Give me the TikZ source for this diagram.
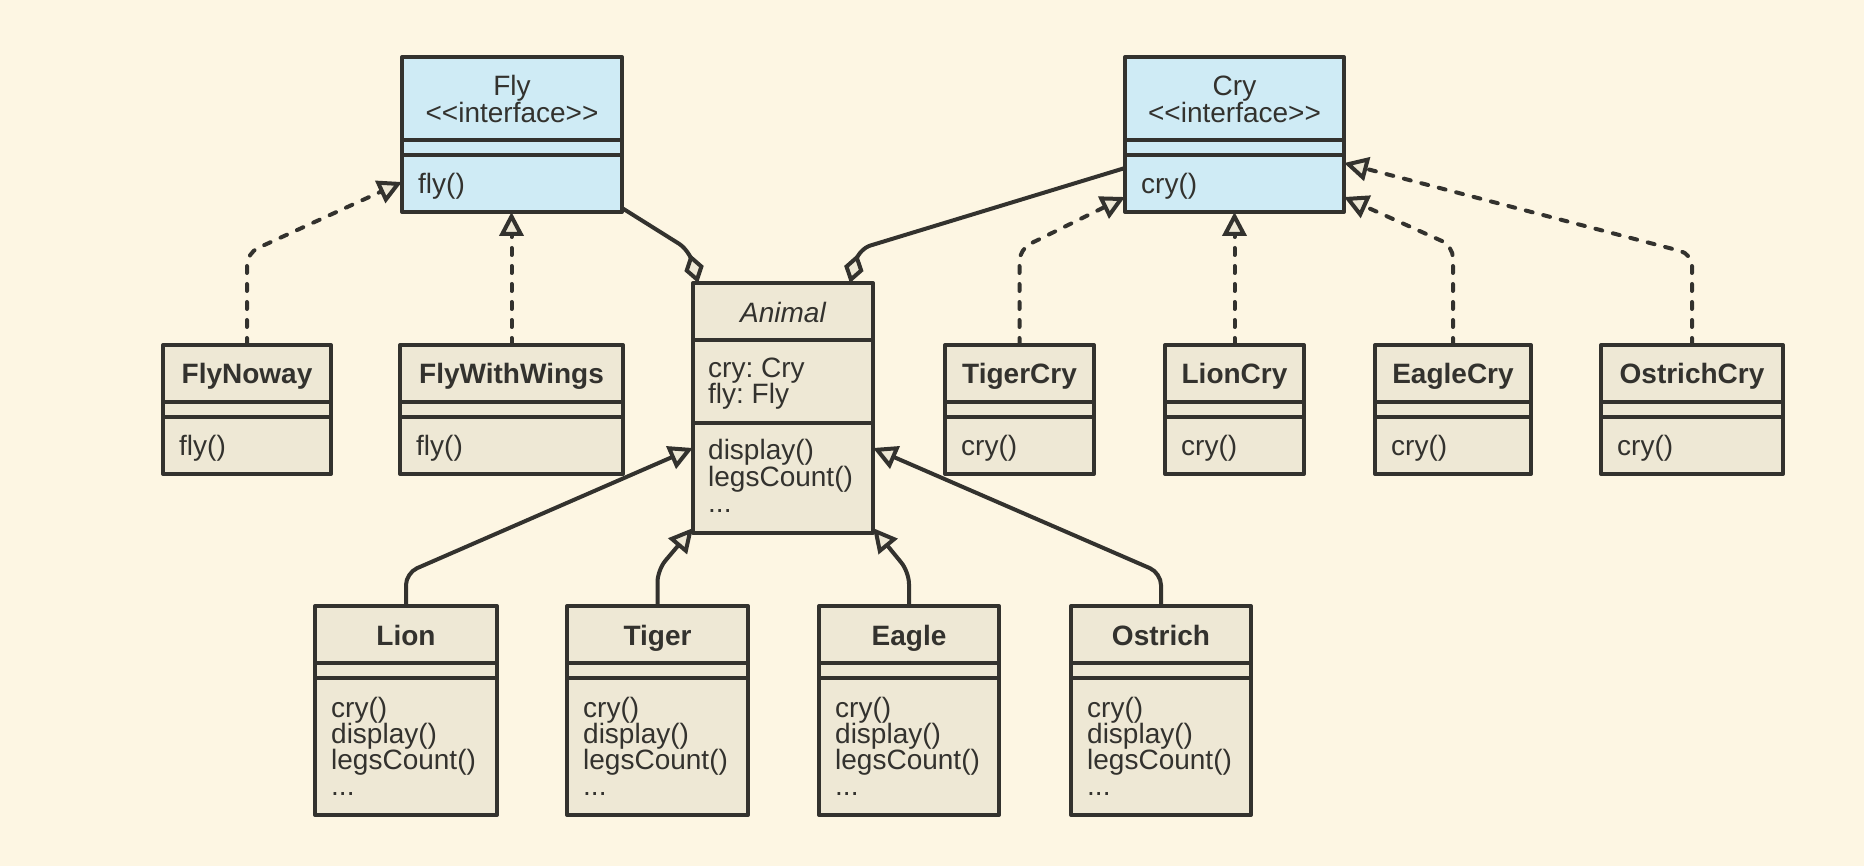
\documentclass[tikz,border=0pt]{standalone}
\usepackage{fontspec}
\setmainfont{Liberation Sans}
\usetikzlibrary{arrows.meta}
\definecolor{bg}{HTML}{FDF6E3}
\definecolor{boxfill}{HTML}{EEE8D5}
\definecolor{ifill}{HTML}{CFEBF5}
\definecolor{ink}{HTML}{33322E}
\newcommand\tdots{...}
\frenchspacing
\tikzset{
  classbox/.style={draw=ink, line width=4pt, inner sep=0pt, outer sep=0pt, anchor=north west, line join=round},
  divider/.style={draw=ink, line width=4pt},
  txt/.style={text=ink, inner sep=0pt, font=\fontsize{28}{28}\selectfont},
  conn/.style={draw=ink, line width=4pt, rounded corners=12pt, line join=round},
  realize/.style={conn, line cap=round, dash pattern=on 7pt off 11pt, -{Triangle[length=24pt,width=24pt,fill=boxfill]}},
  inherit/.style={conn, -{Triangle[length=24pt,width=24pt,fill=boxfill]}},
  compose/.style={conn, {Diamond[length=30pt,width=20pt,fill=boxfill]}-},
}
% name, x, y, w, h, header height, fill, title lines, body lines
\newcommand\umlbox[9]{%
  \node[classbox, fill=#7, minimum width=#4pt, minimum height=#5pt] (#1) at (#2,#3) {};
  \draw[divider] ([yshift={-#6pt}]#1.north west) -- ([yshift={-#6pt}]#1.north east);
  \draw[divider] ([yshift={-#6pt-15pt}]#1.north west) -- ([yshift={-#6pt-15pt}]#1.north east);
  \foreach \tl [count=\i from 0] in {#8} {\node[txt, anchor=base] (#1-t\i) at ([yshift={-(39+27*\i)*1pt}]#1.north) {\tl};}
  \foreach \bl [count=\i from 0] in {#9} {\node[txt, anchor=base west] (#1-b\i) at ([xshift=16pt, yshift={-(#6+15+39+26*\i)*1pt}]#1.north west) {\bl};}
}
\begin{document}
\begin{tikzpicture}[x=1pt, y=-1pt]
\fill[bg] (0,0) rectangle (1864,866);
\useasboundingbox (0,0) rectangle (1864,866);

% interfaces
\umlbox{fly}{402}{57}{220}{155}{83}{ifill}{Fly,<\kern0pt<interface>\kern0pt>}{fly()}
\umlbox{cry}{1125}{57}{219}{155}{83}{ifill}{Cry,<\kern0pt<interface>\kern0pt>}{cry()}

% row 2
\umlbox{flynoway}{163}{345}{168}{129}{57}{boxfill}{\bfseries FlyNoway}{fly()}
\umlbox{flywithwings}{400}{345}{223}{129}{57}{boxfill}{\bfseries FlyWithWings}{fly()}
\umlbox{tigercry}{945}{345}{149}{129}{57}{boxfill}{\bfseries TigerCry}{cry()}
\umlbox{lioncry}{1165}{345}{139}{129}{57}{boxfill}{\bfseries LionCry}{cry()}
\umlbox{eaglecry}{1375}{345}{156}{129}{57}{boxfill}{\bfseries EagleCry}{cry()}
\umlbox{ostrichcry}{1601}{345}{182}{129}{57}{boxfill}{\bfseries OstrichCry}{cry()}

% row 3
\umlbox{lion}{315}{606}{182}{209}{57}{boxfill}{\bfseries Lion}{cry(),display(),legsCount(),\tdots}
\umlbox{tiger}{567}{606}{181}{209}{57}{boxfill}{\bfseries Tiger}{cry(),display(),legsCount(),\tdots}
\umlbox{eagle}{819}{606}{180}{209}{57}{boxfill}{\bfseries Eagle}{cry(),display(),legsCount(),\tdots}
\umlbox{ostrich}{1071}{606}{180}{209}{57}{boxfill}{\bfseries Ostrich}{cry(),display(),legsCount(),\tdots}

% Animal
\node[classbox, fill=boxfill, minimum width=180pt, minimum height=250pt] (animal) at (693,283) {};
\draw[divider] ([yshift=-57pt]animal.north west) -- ([yshift=-57pt]animal.north east);
\draw[divider] ([yshift=-140pt]animal.north west) -- ([yshift=-140pt]animal.north east);
\node[txt, anchor=base] (animal-t0) at ([yshift=-40pt]animal.north) {\itshape Animal};
\node[txt, anchor=base west] (animal-a0) at ([xshift=15pt, yshift=-95pt]animal.north west) {cry: Cry};
\node[txt, anchor=base west] (animal-a1) at ([xshift=15pt, yshift=-121pt]animal.north west) {fly: Fly};
\node[txt, anchor=base west] (animal-m0) at ([xshift=15pt, yshift=-177pt]animal.north west) {display()};
\node[txt, anchor=base west] (animal-m1) at ([xshift=15pt, yshift=-203pt]animal.north west) {legsCount()};
\node[txt, anchor=base west] (animal-m2) at ([xshift=15pt, yshift=-229pt]animal.north west) {\tdots};

% realizations of Fly
\draw[realize] (flynoway.north) -- ++(0,-92) -- ([yshift=-47.5pt]fly.west);
\draw[realize] (flywithwings.north) -- (flywithwings.north |- fly.south);

% realizations of Cry
\draw[realize] (tigercry.north) -- ++(0,-96) -- ([yshift=-62.5pt]cry.west);
\draw[realize] (lioncry.north) -- (lioncry.north |- cry.south);
\draw[realize] (eaglecry.north) -- ++(0,-99) -- ([yshift=-62.5pt]cry.east);
\draw[realize] (ostrichcry.north) -- ++(0,-91) -- ([yshift=-28.5pt]cry.east);

% compositions
\draw[compose] ([xshift=-85pt]animal.north) -- ++(-9,-33) -- ([yshift=4pt]fly.south east);
\draw[compose] ([xshift=67pt]animal.north) -- ++(9,-34) -- ([yshift=-33.5pt]cry.west);

% inheritance
\draw[inherit] (lion.north) -- ++(0,-33) -- ([yshift=-40pt]animal.west);
\draw[inherit] (tiger.north) -- ++(0,-36) -- ([yshift=5pt]animal.south west);
\draw[inherit] (eagle.north) -- ++(0,-34) -- ([yshift=5pt]animal.south east);
\draw[inherit] (ostrich.north) -- ++(0,-33) -- ([yshift=-40pt]animal.east);
\end{tikzpicture}
\end{document}
